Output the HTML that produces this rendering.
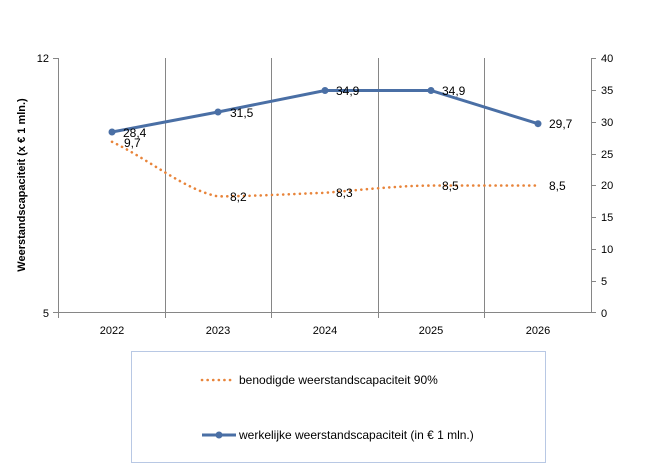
<!DOCTYPE html>
<html><head><meta charset="utf-8"><style>
html,body{margin:0;padding:0;background:#fff;}
svg{display:block;font-family:"Liberation Sans",Arial,sans-serif;}
</style></head><body>
<svg width="653" height="476" viewBox="0 0 653 476" xmlns="http://www.w3.org/2000/svg">
<rect width="653" height="476" fill="#fff"/>
<g stroke="#868686" stroke-width="1">
<line x1="58.5" y1="58" x2="58.5" y2="318"/>
<line x1="165.5" y1="58" x2="165.5" y2="318"/>
<line x1="271.5" y1="58" x2="271.5" y2="318"/>
<line x1="378.5" y1="58" x2="378.5" y2="318"/>
<line x1="484.5" y1="58" x2="484.5" y2="318"/>
<line x1="591.5" y1="58" x2="591.5" y2="313"/>
<line x1="53" y1="58.5" x2="58" y2="58.5"/>
<line x1="53" y1="312.5" x2="591" y2="312.5"/>
<g>
<line x1="591" y1="58.5" x2="596" y2="58.5"/>
<line x1="591" y1="90.5" x2="596" y2="90.5"/>
<line x1="591" y1="122.5" x2="596" y2="122.5"/>
<line x1="591" y1="154.5" x2="596" y2="154.5"/>
<line x1="591" y1="185.5" x2="596" y2="185.5"/>
<line x1="591" y1="217.5" x2="596" y2="217.5"/>
<line x1="591" y1="249.5" x2="596" y2="249.5"/>
<line x1="591" y1="281.5" x2="596" y2="281.5"/>
<line x1="591" y1="312.5" x2="596" y2="312.5"/>
</g>
</g>
<g font-size="11" fill="#000">
<text x="49" y="62" text-anchor="end">12</text>
<text x="49" y="317" text-anchor="end">5</text>
<g text-anchor="start">
<text x="601" y="62">40</text><text x="601" y="94">35</text><text x="601" y="126">30</text>
<text x="601" y="158">25</text><text x="601" y="189">20</text><text x="601" y="221">15</text>
<text x="601" y="253">10</text><text x="601" y="285">5</text><text x="601" y="317">0</text>
</g>
<g text-anchor="middle">
<text x="112" y="334">2022</text><text x="218" y="334">2023</text><text x="325" y="334">2024</text>
<text x="431" y="334">2025</text><text x="538" y="334">2026</text>
</g>
</g>
<text transform="translate(25,185) rotate(-90)" font-size="11" font-weight="bold" text-anchor="middle">Weerstandscapaciteit  (x € 1 mln.)</text>
<path d="M112,141.8 C150,160 185,190 218,196.4 C260,196 290,194 325,192.8 C360,190 395,186 431,185.5 L538,185.5" fill="none" stroke="#E8843A" stroke-width="2.6" stroke-dasharray="0.1 5.5" stroke-linecap="round"/>
<polyline points="112,132 218,112 325,90.5 431,90.5 538,123.7" fill="none" stroke="#4A6FA5" stroke-width="3"/>
<g fill="#4A6FA5">
<circle cx="112" cy="132" r="3.5"/><circle cx="218" cy="112" r="3.5"/><circle cx="325" cy="90.5" r="3.5"/>
<circle cx="431" cy="90.5" r="3.5"/><circle cx="538" cy="123.7" r="3.5"/>
</g>
<g font-size="12" fill="#000">
<text x="123" y="137">28,4</text><text x="124" y="147">9,7</text>
<text x="230" y="117">31,5</text><text x="230" y="201">8,2</text>
<text x="336" y="95">34,9</text><text x="336" y="197">8,3</text>
<text x="442" y="95">34,9</text><text x="442" y="190">8,5</text>
<text x="549" y="128">29,7</text><text x="549" y="190">8,5</text>
</g>
<rect x="131.5" y="351.5" width="414" height="111" fill="#fff" stroke="#B8C8E4" stroke-width="1"/>
<line x1="202" y1="380" x2="234" y2="380" stroke="#E8843A" stroke-width="2.6" stroke-dasharray="0.1 5.5" stroke-linecap="round"/>
<text x="239" y="384" font-size="12">benodigde weerstandscapaciteit 90%</text>
<line x1="202" y1="435" x2="236" y2="435" stroke="#4A6FA5" stroke-width="3"/>
<circle cx="219" cy="435" r="3.5" fill="#4A6FA5"/>
<text x="239" y="439" font-size="12">werkelijke weerstandscapaciteit (in € 1 mln.)</text>
</svg>
</body></html>
